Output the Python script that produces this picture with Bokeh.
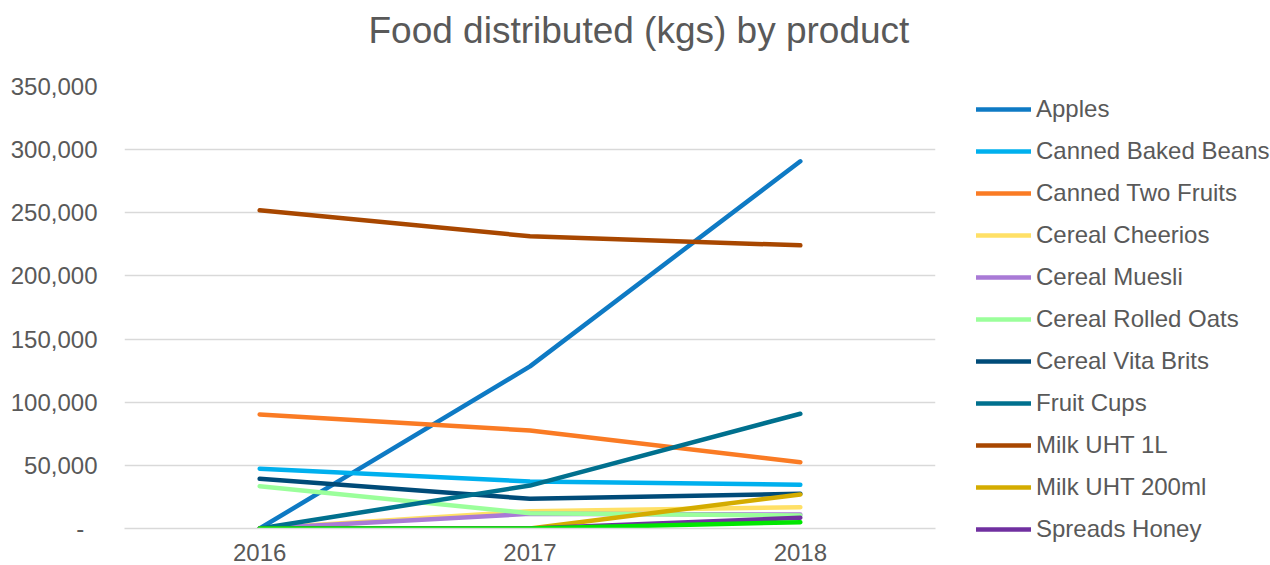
from bokeh.plotting import figure
from bokeh.models import (FactorRange, Range1d, Legend, LegendItem, Label,
                          CustomJSTickFormatter, SingleIntervalTicker)
from bokeh.embed import file_html
from bokeh.resources import INLINE

years = ["2016", "2017", "2018"]

apples = [0, 128400, 290800]
canned_baked_beans = [47300, 37200, 34600]
canned_two_fruits = [90300, 77600, 52500]
cereal_cheerios = [0, 13700, 16900]
cereal_muesli = [0, 11600, 11100]
cereal_rolled_oats = [33500, 12100, 10300]
cereal_vita_brits = [39400, 23500, 27500]
fruit_cups = [0, 34000, 90900]
milk_uht_1l = [252000, 231400, 224200]
milk_uht_200ml = [0, 0, 27000]
spreads_honey = [0, 0, 8500]
spreads_other = [0, 0, 5000]

names = ["Apples", "Canned Baked Beans", "Canned Two Fruits", "Cereal Cheerios",
         "Cereal Muesli", "Cereal Rolled Oats", "Cereal Vita Brits", "Fruit Cups",
         "Milk UHT 1L", "Milk UHT 200ml", "Spreads Honey", None]
series = [apples, canned_baked_beans, canned_two_fruits, cereal_cheerios,
          cereal_muesli, cereal_rolled_oats, cereal_vita_brits, fruit_cups,
          milk_uht_1l, milk_uht_200ml, spreads_honey, spreads_other]
colors = ["#0E7AC4", "#00B0EE", "#FA7B24", "#FFE066", "#A97AD6", "#9BFF9B",
          "#004B78", "#00708E", "#A84700", "#D4AC00", "#7030A0", "#00E600"]

title_text = "Food distributed (kgs) by product"

FONT = "Liberation Sans"
TXT = "#595959"
GRID = "#D9D9D9"

p = figure(x_range=FactorRange(*years), y_range=Range1d(0, 350000),
           frame_width=811, frame_height=442,
           min_border_left=124, min_border_right=335, min_border_top=86,
           min_border_bottom=37, output_backend="svg", toolbar_location=None,
           outline_line_color=None, background_fill_color="white",
           border_fill_color="white")

p.add_layout(Label(x=244, y=56, x_units="screen", y_units="screen",
                   text=title_text, text_font_size="37px", text_font=FONT,
                   text_color=TXT, text_align="left",
                   text_baseline="alphabetic"), "above")

items = []
for name, vals, col in zip(names, series, colors):
    r = p.line(years, vals, line_color=col, line_width=4.5, line_cap="round",
               line_join="round")
    if name is not None:
        items.append(LegendItem(label=name, renderers=[r]))

p.xgrid.grid_line_color = None
p.ygrid.grid_line_color = GRID
p.ygrid.grid_line_width = 1.5

p.yaxis.ticker = SingleIntervalTicker(interval=50000, num_minor_ticks=0)
p.yaxis.formatter = CustomJSTickFormatter(
    code="return tick == 0 ? '-\\u00a0\\u00a0' : tick.toLocaleString('en-US');")
p.yaxis.axis_line_color = None
p.yaxis.major_tick_line_color = None
p.yaxis.minor_tick_line_color = None
p.yaxis.major_label_standoff = 21
p.yaxis.major_label_text_font_size = "24px"
p.yaxis.major_label_text_font = FONT
p.yaxis.major_label_text_color = TXT

p.xaxis.axis_line_color = GRID
p.xaxis.axis_line_width = 1.5
p.xaxis.major_tick_line_color = None
p.xaxis.minor_tick_line_color = None
p.xaxis.major_label_standoff = 9
p.xaxis.major_label_text_font_size = "24px"
p.xaxis.major_label_text_font = FONT
p.xaxis.major_label_text_color = TXT

legend = Legend(items=items, location=(41, -15), padding=0, margin=0,
                spacing=14, glyph_width=55, glyph_height=28, label_height=28,
                label_standoff=5, label_text_font_size="24px",
                label_text_font=FONT, label_text_color=TXT,
                border_line_color=None, background_fill_alpha=0)
p.add_layout(legend, "right")

open("out.html", "w").write(file_html(p, INLINE))
